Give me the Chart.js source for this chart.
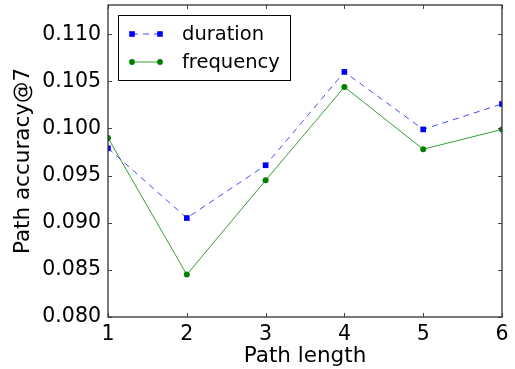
<!DOCTYPE html>
<html>
<head>
<meta charset="utf-8">
<script src="https://cdn.jsdelivr.net/npm/chart.js@4/dist/chart.umd.min.js"></script>
<style>
html, body { margin: 0; padding: 0; background: #fff; }
</style>
</head>
<body>
<canvas id="chart" width="515" height="369"></canvas>
<script>
const pathLength = [1, 2, 3, 4, 5, 6];
const duration = [0.0979, 0.0905, 0.0961, 0.1060, 0.0999, 0.1026];
const frequency = [0.0990, 0.0845, 0.0945, 0.1044, 0.0978, 0.0999];
const xTicks = [1, 2, 3, 4, 5, 6];
const yTicks = [0.080, 0.085, 0.090, 0.095, 0.100, 0.105, 0.110];
const seriesNames = ['duration', 'frequency'];

const FONT = "'DejaVu Sans', sans-serif";

// frame + inward ticks on all four sides, like the old matplotlib style
const framePlugin = {
    id: 'frame',
    afterDatasetsDraw(chart) {
        const ctx = chart.ctx;
        const a = chart.chartArea;
        const xs = chart.scales.x, ys = chart.scales.y;
        ctx.save();
        ctx.strokeStyle = '#444';
        ctx.lineWidth = 1;
        ctx.beginPath();
        xs.ticks.forEach(t => {
            const px = Math.round(xs.getPixelForValue(t.value)) + 0.5;
            ctx.moveTo(px, a.bottom); ctx.lineTo(px, a.bottom - 4);
            ctx.moveTo(px, a.top); ctx.lineTo(px, a.top + 4);
        });
        ys.ticks.forEach(t => {
            const py = Math.round(ys.getPixelForValue(t.value)) + 0.5;
            ctx.moveTo(a.left, py); ctx.lineTo(a.left + 4, py);
            ctx.moveTo(a.right, py); ctx.lineTo(a.right - 4, py);
        });
        ctx.stroke();
        ctx.strokeStyle = '#333';
        ctx.lineWidth = 1.3;
        ctx.strokeRect(a.left, a.top, a.right - a.left, a.bottom - a.top);
        ctx.restore();
    }
};

// legend box with a line sample and a marker at both ends
const legendPlugin = {
    id: 'mplLegend',
    afterDraw(chart) {
        const ctx = chart.ctx;
        const a = chart.chartArea;
        const bx = a.left + 10, by = a.top + 10, bw = 172, bh = 65;
        ctx.save();
        ctx.fillStyle = '#fff';
        ctx.fillRect(bx, by, bw, bh);
        ctx.strokeStyle = '#000';
        ctx.lineWidth = 1;
        ctx.strokeRect(bx + 0.5, by + 0.5, bw, bh);
        chart.data.datasets.forEach((ds, i) => {
            const y = by + 19 + i * 28;
            const x0 = bx + 14, x1 = bx + 42;
            ctx.strokeStyle = ds.borderColor;
            ctx.lineWidth = ds.borderWidth;
            ctx.setLineDash(ds.borderDash || []);
            ctx.beginPath();
            ctx.moveTo(x0, y); ctx.lineTo(x1, y);
            ctx.stroke();
            ctx.setLineDash([]);
            ctx.fillStyle = ds.pointBackgroundColor;
            [x0, x1].forEach(x => {
                if (ds.pointStyle === 'rect') {
                    ctx.fillRect(x - 2.8, y - 2.8, 5.6, 5.6);
                } else {
                    ctx.beginPath();
                    ctx.arc(x, y, 2.9, 0, Math.PI * 2);
                    ctx.fill();
                }
            });
            ctx.fillStyle = '#000';
            ctx.font = '19.5px ' + FONT;
            ctx.textBaseline = 'middle';
            ctx.fillText(ds.label, bx + 64, y + 1);
        });
        ctx.restore();
    }
};

new Chart(document.getElementById('chart').getContext('2d'), {
    type: 'line',
    data: {
        datasets: [
            {
                label: seriesNames[0],
                data: pathLength.map((x, i) => ({ x: x, y: duration[i] })),
                borderColor: 'rgba(40, 40, 255, 0.85)',
                borderWidth: 1,
                borderDash: [6, 5],
                pointStyle: 'rect',
                pointRadius: 4,
                pointBackgroundColor: '#0000ff',
                pointBorderColor: '#0000ff',
                pointBorderWidth: 0,
                tension: 0,
                clip: 0
            },
            {
                label: seriesNames[1],
                data: pathLength.map((x, i) => ({ x: x, y: frequency[i] })),
                borderColor: 'rgba(20, 140, 20, 0.85)',
                borderWidth: 1,
                pointStyle: 'circle',
                pointRadius: 3,
                pointBackgroundColor: '#007f00',
                pointBorderColor: '#007f00',
                pointBorderWidth: 0,
                tension: 0,
                clip: 0
            }
        ]
    },
    options: {
        responsive: false,
        animation: false,
        devicePixelRatio: 1,
        layout: { padding: { top: 5, right: 13, left: 0, bottom: 0 } },
        plugins: {
            legend: { display: false },
            tooltip: { enabled: false }
        },
        scales: {
            x: {
                type: 'linear',
                min: 1,
                max: 6,
                grid: { display: false, drawTicks: false },
                border: { display: false },
                afterBuildTicks: s => { s.ticks = xTicks.map(v => ({ value: v })); },
                afterFit: s => { s.height = 52; s.paddingLeft = 0; s.paddingRight = 0; },
                ticks: {
                    color: '#000',
                    padding: 5,
                    maxRotation: 0,
                    font: { family: FONT, size: 20.5 },
                    callback: v => String(v)
                },
                title: {
                    display: true,
                    text: 'Path length',
                    color: '#000',
                    font: { family: FONT, size: 21.5 },
                    padding: { top: 0, bottom: 0 }
                }
            },
            y: {
                min: 0.080,
                max: 0.1131,
                grid: { display: false, drawTicks: false },
                border: { display: false },
                afterBuildTicks: s => { s.ticks = yTicks.map(v => ({ value: v })); },
                afterFit: s => { s.width = 108; s.paddingTop = 0; s.paddingBottom = 0; },
                ticks: {
                    color: '#000',
                    padding: 7,
                    font: { family: FONT, size: 20.5 },
                    callback: v => v.toFixed(3)
                },
                title: {
                    display: true,
                    text: 'Path accuracy@7',
                    color: '#000',
                    font: { family: FONT, size: 21.5 },
                    padding: { top: 11, bottom: 0 }
                }
            }
        }
    },
    plugins: [framePlugin, legendPlugin]
});
</script>
</body>
</html>
